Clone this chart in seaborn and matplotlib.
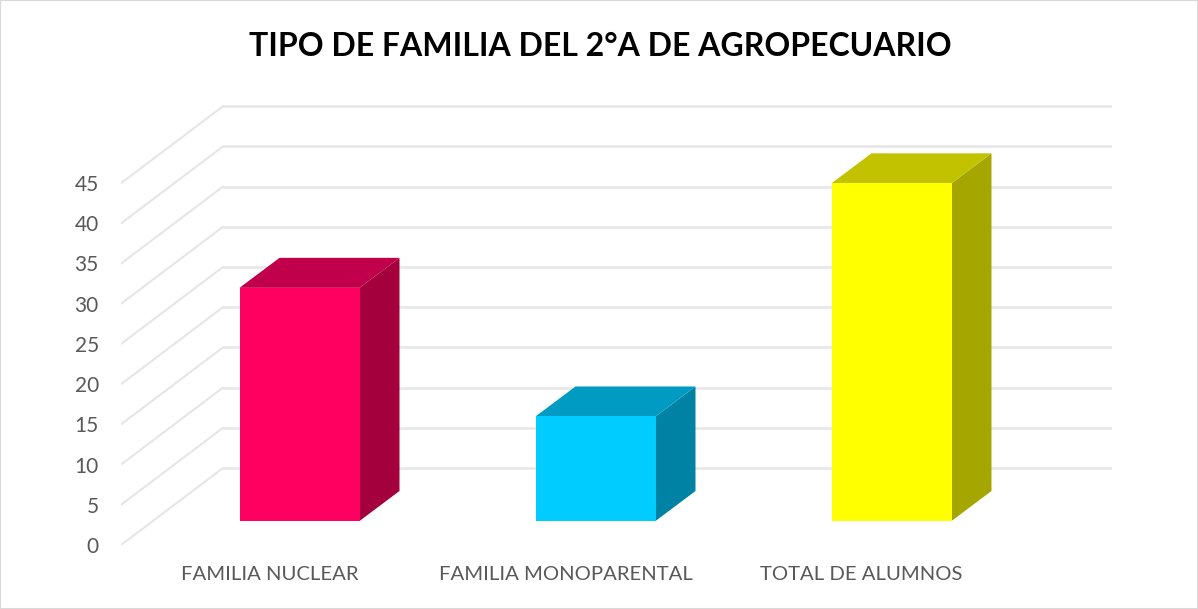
import matplotlib
matplotlib.use('Agg')
import matplotlib.pyplot as plt
import pandas as pd
import seaborn as sns
from matplotlib.patches import Polygon, Rectangle

categories = ['FAMILIA NUCLEAR', 'FAMILIA MONOPARENTAL', 'TOTAL DE ALUMNOS']
alumnos = [29, 13, 42]
y_ticks = [0, 5, 10, 15, 20, 25, 30, 35, 40, 45]
front_colors = ['#ff0060', '#00ccff', '#ffff00']
top_colors = ['#c0004a', '#009bc2', '#c2c200']
side_colors = ['#a4003e', '#0082a5', '#a6a600']
title = 'TIPO DE FAMILIA DEL 2°A DE AGROPECUARIO'

W, H = 1198, 609
PX_PER_UNIT = 8.04
PX_PER_CAT = 296.0
FIRST_BAR_X = 299.5


def box(left, top, right, bottom):
    return [left / W, 1 - bottom / H, (right - left) / W, (bottom - top) / H]


sns.set_theme(style='white', rc={'axes.facecolor': 'none'})
plt.rcParams['font.family'] = ['Lato', 'DejaVu Sans']

fig = plt.figure(figsize=(W / 100, H / 100), dpi=100, facecolor='white')
fig.add_artist(Rectangle((0, 0), 1, 1, transform=fig.transFigure, fill=False,
                         edgecolor='#d9d9d9', linewidth=1.5))

# front plane: only carries the value axis
ax_front = fig.add_axes(box(121, 183, 1112, 545))
ax_front.set_ylim(0, 45)
ax_front.set_xlim(121, 1112)
ax_front.set_yticks(y_ticks)
ax_front.set_xticks([])
ax_front.tick_params(axis='y', length=0, pad=16, labelsize=15, labelcolor='#595959')
sns.despine(ax=ax_front, left=True, bottom=True)

# main axes: value 0 sits on the bar floor, 24 px above the front plane
ax = fig.add_axes(box(121, 90, 1112, 545))
df = pd.DataFrame({'categoria': categories, 'alumnos': alumnos})
sns.barplot(data=df, x='categoria', y='alumnos', hue='categoria', palette=front_colors,
            width=120 / PX_PER_CAT, legend=False, saturation=1, linewidth=0, ax=ax, zorder=5)
ax.set_xlim((121 - FIRST_BAR_X) / PX_PER_CAT, (1112 - FIRST_BAR_X) / PX_PER_CAT)
ax.set_ylim(-24 / PX_PER_UNIT, (521 - 90) / PX_PER_UNIT)
ax.set(xlabel='', ylabel='')
ax.set_yticks([])
ax.set_xticks([i - 30 / PX_PER_CAT for i in range(len(categories))])
ax.set_xticklabels(categories)
ax.tick_params(axis='x', length=0, pad=15, labelsize=14.6, labelcolor='#595959')
sns.despine(ax=ax, left=True, bottom=True)

# wall gridlines and the diagonals on the side wall
wall_dx = (223 - 121) / PX_PER_CAT
wall_dy = 77 / PX_PER_UNIT
x_front = (121 - FIRST_BAR_X) / PX_PER_CAT
x_end = (1112 - FIRST_BAR_X) / PX_PER_CAT
y_shift = -24 / PX_PER_UNIT
for v in y_ticks:
    y_back = v + y_shift + wall_dy
    ax.plot([x_front + wall_dx, x_end], [y_back, y_back], color='#e6e6e6', lw=1.8, zorder=1)
    ax.plot([x_front, x_front + wall_dx], [v + y_shift, y_back], color='#e6e6e6', lw=1.5, zorder=1)

# side and top faces taken from the bars seaborn drew
depth_x = 40 / PX_PER_CAT
depth_y = 30 / PX_PER_UNIT
for bar, top_c, side_c in zip(ax.patches, top_colors, side_colors):
    x0, x1 = bar.get_x(), bar.get_x() + bar.get_width()
    h = bar.get_height()
    ax.add_patch(Polygon([(x1, 0), (x1 + depth_x, depth_y), (x1 + depth_x, h + depth_y), (x1, h)],
                         facecolor=side_c, edgecolor='none', zorder=4))
    ax.add_patch(Polygon([(x0, h), (x0 + depth_x, h + depth_y), (x1 + depth_x, h + depth_y), (x1, h)],
                         facecolor=top_c, edgecolor='none', zorder=4))

fig.text(600 / W, 1 - 46 / H, title, ha='center', va='center', fontsize=23,
         fontweight='bold', color='black')

fig.savefig('out.png', dpi=100)
